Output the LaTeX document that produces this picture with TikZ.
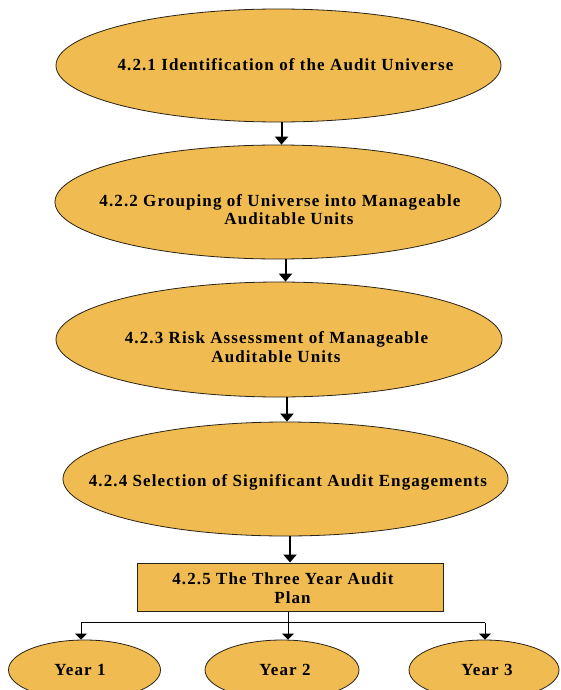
\documentclass[tikz,border=0pt]{standalone}
\usepackage{fontspec}
\setmainfont{Liberation Serif}
\newfontfamily\boxfont[LetterSpace=6.5]{Liberation Serif}
\usetikzlibrary{shapes.geometric,arrows.meta}
\definecolor{fillc}{RGB}{240,187,80}
\definecolor{edgec}{RGB}{40,35,25}
\begin{document}
\begin{tikzpicture}[x=1pt,y=-1pt,
  ell/.style={ellipse,draw=edgec,line width=0.8pt,fill=fillc,inner sep=0pt},
  boxrect/.style={rectangle,draw=edgec,line width=1pt,fill=fillc,inner sep=0pt},
  lbl/.style={anchor=base,inner sep=0pt,font=\boxfont\bfseries\fontsize{17}{18}\selectfont},
  bigarr/.style={line width=2pt,-{Triangle[width=13pt,length=8pt]}},
  smallarr/.style={line width=0.9pt,-{Triangle[width=12pt,length=6pt]}},
  thinline/.style={line width=0.9pt}]
\useasboundingbox (0,0) rectangle (560,690);
\fill[white] (0,0) rectangle (560,690);
% ellipses
\node[ell,minimum width=445pt,minimum height=113pt] (e1) at (278.5,65.5) {};
\node[ell,minimum width=446pt,minimum height=114pt] (e2) at (278,202) {};
\node[ell,minimum width=446pt,minimum height=115pt] (e3) at (279,339.5) {};
\node[ell,minimum width=445pt,minimum height=114pt] (e4) at (285.5,479) {};
\node[boxrect,minimum width=306pt,minimum height=48pt] (r5) at (290,587) {};
\node[ell,minimum width=152pt,minimum height=60pt] (y1) at (84.5,670) {};
\node[ell,minimum width=154pt,minimum height=60pt] (y2) at (282,670) {};
\node[ell,minimum width=150pt,minimum height=60pt] (y3) at (484,670) {};
% labels
\node[lbl] (t1) at (285.5,71) {4.2.1 Identification of the Audit Universe};
\node[lbl] (t2a) at (280,206) {4.2.2 Grouping of Universe into Manageable};
\node[lbl] (t2b) at (289,224) {Auditable Units};
\node[lbl] (t3a) at (276.5,343) {4.2.3 Risk Assessment of Manageable};
\node[lbl] (t3b) at (276,362) {Auditable Units};
\node[lbl] (t4) at (288,486) {4.2.4 Selection of Significant Audit Engagements};
\node[lbl] (t5a) at (283,584) {4.2.5 The Three Year Audit};
\node[lbl] (t5b) at (292.5,603) {Plan};
\node[lbl] (ty1) at (80,675) {Year 1};
\node[lbl] (ty2) at (285,675) {Year 2};
\node[lbl] (ty3) at (487,675) {Year 3};
% arrow x positions
\coordinate (a1) at (281.5,0);
\coordinate (a2) at (285.5,0);
\coordinate (a3) at (287,0);
\coordinate (a4) at (290,0);
\draw[bigarr] (e1.south -| a1) -- (a1 |- e2.north);
\draw[bigarr] (e2.south -| a2) -- (a2 |- e3.north);
\draw[bigarr] (e3.south -| a3) -- (a3 |- e4.north);
\draw[bigarr] (e4.south -| a4) -- (a4 |- r5.north);
% branch
\coordinate (hb) at (288,622.5);
\coordinate (hl) at (81,622.5);
\coordinate (hr) at (485,622.5);
\draw[thinline] (r5.south -| hb) -- (hb);
\draw[thinline] (hl) -- (hr);
\draw[smallarr] (hl) -- (hl |- y1.north);
\draw[smallarr] (hb) -- (hb |- y2.north);
\draw[smallarr] (hr) -- (hr |- y3.north);
\end{tikzpicture}
\end{document}
